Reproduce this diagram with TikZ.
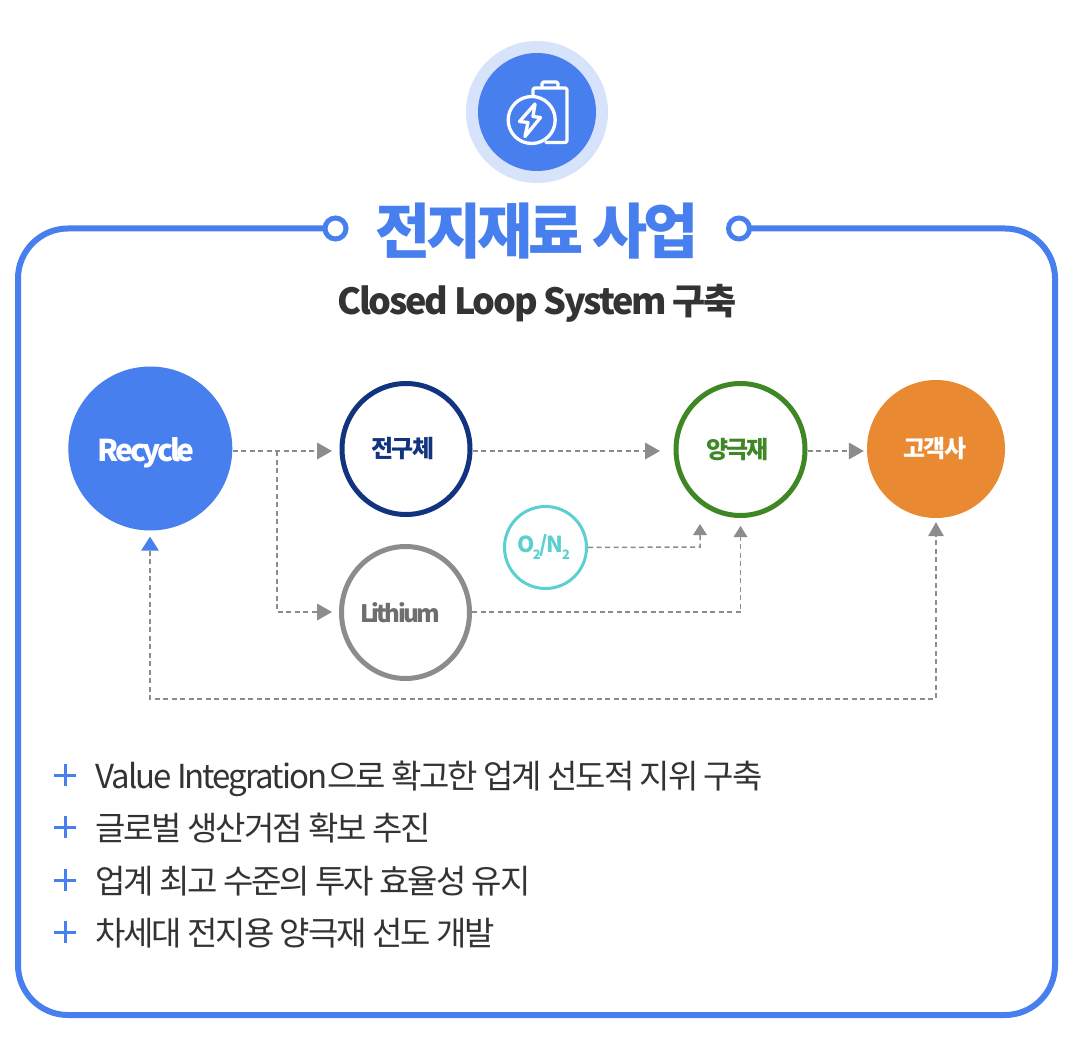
\documentclass[tikz,border=0pt]{standalone}
\usepackage{fontspec}
\setmainfont{Noto Sans CJK KR}
\newfontfamily\mediumfont{Noto Sans CJK KR Medium}
\usetikzlibrary{arrows.meta, positioning, shapes.geometric}
\definecolor{mainblue}{HTML}{487FEE}
\definecolor{haloblue}{HTML}{D6E3FB}
\definecolor{navyring}{HTML}{12337F}
\definecolor{greenring}{HTML}{3F8725}
\definecolor{tealring}{HTML}{5CCFD0}
\definecolor{greyring}{HTML}{8C8C8C}
\definecolor{greytext}{HTML}{6E6E6E}
\definecolor{orangefill}{HTML}{E98A33}
\definecolor{darktext}{HTML}{333333}
\tikzset{
  stage/.style={circle, minimum size=#1, inner sep=0pt, font=\fontsize{24}{24}\bfseries\addfontfeature{LetterSpace=-7}\selectfont},
  ringstage/.style 2 args={ellipse, minimum width=#1, minimum height=#2, inner sep=0pt, line width=5pt, font=\fontsize{24}{24}\bfseries\addfontfeature{LetterSpace=-7}\selectfont},
  flow/.style={draw=greyring, line width=1.5pt, dash pattern=on 5pt off 3.5pt},
  bighead/.style={-{Triangle[length=15pt, width=17pt, fill=greyring, line width=0pt]}},
  smallhead/.style={-{Triangle[length=11pt, width=14pt, fill=greyring, line width=0pt]}},
  loophead/.style={{Triangle[length=14pt, width=18pt, fill=mainblue, line width=0pt]}-{Triangle[length=14pt, width=16pt, fill=greyring, line width=0pt]}},
  ringmark/.style={circle, draw=mainblue, fill=white, line width=5pt, minimum size=21pt, inner sep=0pt},
  bullet/.style={anchor=base west, text=darktext, inner sep=0pt, font=\fontsize{33}{33}\selectfont\addfontfeature{LetterSpace=-6.2}},
  plusmark/.style={draw=mainblue, line width=3pt},
}
\begin{document}
\begin{tikzpicture}[x=1pt, y=-1pt]
\useasboundingbox (0,0) rectangle (1080,1038);
\fill[white] (0,0) rectangle (1080,1038);

% Frame and title
\draw[mainblue, line width=6pt, rounded corners=50pt]
(326,228.5) -- (18,228.5) -- (18,1015) -- (1055,1015) -- (1055,228.5) -- (748,228.5);
\node[ringmark] (ringL) at (335.5,228.5) {};
\node[ringmark] (ringR) at (739,228.5) {};
\node[text=mainblue, font=\fontsize{60}{60}\bfseries\addfontfeature{LetterSpace=-7}\selectfont] (title) at (537,231) {전지재료 사업};
\node[text=darktext, font=\fontsize{36}{36}\bfseries\addfontfeature{LetterSpace=-6.3}\selectfont] (subtitle) at (537,303) {Closed Loop System 구축};

% Battery icon
\node[circle, fill=haloblue, minimum size=142pt, inner sep=0pt] (halo) at (537,112) {};
\node[circle, fill=mainblue, minimum size=118pt, inner sep=0pt] (badge) at (537,112) {};
\begin{scope}[line width=3.3pt, line join=round, line cap=round]
\draw[white, rounded corners=2pt] (533,95) -- (533,88) -- (567,88) -- (567,142.5) -- (546,142.5);
\draw[white, rounded corners=2pt] (542,87) -- (542,82) -- (558,82) -- (558,87);
\draw[white] (531.7,120) circle (23.5);
\draw[white] (535,104) -- (519.5,121.5) -- (528,122.5) -- (525,136.5) -- (540.5,117.5) -- (533,116.5) -- cycle;
\end{scope}

% Define nodes
\node[stage=164pt, fill=mainblue, text=white] (recycle) at (150.3,448.5) {\kern-8pt\raisebox{-12.5pt}[0pt][0pt]{\fontsize{30}{30}\selectfont\addfontfeature{LetterSpace=-11}Recycle}};
\node[ringstage={128pt}{131pt}, draw=navyring, text=navyring] (precursor) at (406,449) {\kern-6pt 전구체};
\node[ringstage={129pt}{132pt}, draw=greenring, text=greenring] (cathode) at (740.5,449.5) {\kern-6pt 양극재};
\node[stage=138pt, fill=orangefill, text=white] (customer) at (936,449) {\kern-2pt 고객사};
\node[ringstage={128pt}{132pt}, draw=greyring, text=greytext] (lithium) at (405.5,612.5) {\kern-11pt\mediumfont\addfontfeature{LetterSpace=-11}Lithium};
\node[stage=82pt, draw=tealring, line width=3pt, text=tealring] (gas) at (545.5,547.5) {\kern-4pt\fontsize{22}{22}\selectfont O\kern-1.5pt\raisebox{-7pt}{\fontsize{13}{13}\selectfont 2}\kern-1pt/N\kern-1.5pt\raisebox{-7pt}{\fontsize{13}{13}\selectfont 2}};

\coordinate (topline) at (0,451);
\coordinate (branch) at (277,451);
\coordinate (gasturn) at (700,547);
\coordinate (lithturn) at (740.5,612);
\coordinate (loopL) at (150,699);
\coordinate (loopR) at (936,699);

% Connectors
\draw[flow, bighead, shorten >=7.5pt] (recycle.east |- topline) -- (precursor.west |- topline);
\draw[flow, bighead, shorten >=7pt] (branch) -- (branch |- lithturn) -- (lithium.west |- lithturn);
\draw[flow, bighead, shorten >=13.5pt] (precursor.east |- topline) -- (cathode.west |- topline);
\draw[flow, bighead, shorten >=3pt] (cathode.east |- topline) -- (customer.west |- topline);
\draw[flow, smallhead, shorten >=6pt] (gas.east) -- (gasturn) -- (gasturn |- cathode.south);
\draw[flow, smallhead, shorten >=8pt] (lithium.east |- lithturn) -- (lithturn) -- (cathode.south);
\draw[flow, loophead, shorten <=6pt, shorten >=4pt]
(loopL |- recycle.south) -- (loopL) -- (loopR) -- (customer.south);

% Points
\foreach \name/\ypos/\body in {
  pointA/776/{{\addfontfeature{LetterSpace=-6}Value Integration}으로 확고한 업계 선도적 지위 구축},
  pointB/828/{글로벌 생산거점 확보 추진},
  pointC/881/{업계 최고 수준의 투자 효율성 유지},
  pointD/933/{차세대 전지용 양극재 선도 개발}}
{
  \node[bullet] (\name) at (95,\ypos+12) {\body};
  \draw[plusmark] (54,\ypos-1) -- (76,\ypos-1) (65,\ypos-12) -- (65,\ypos+10);
}
\end{tikzpicture}
\end{document}
